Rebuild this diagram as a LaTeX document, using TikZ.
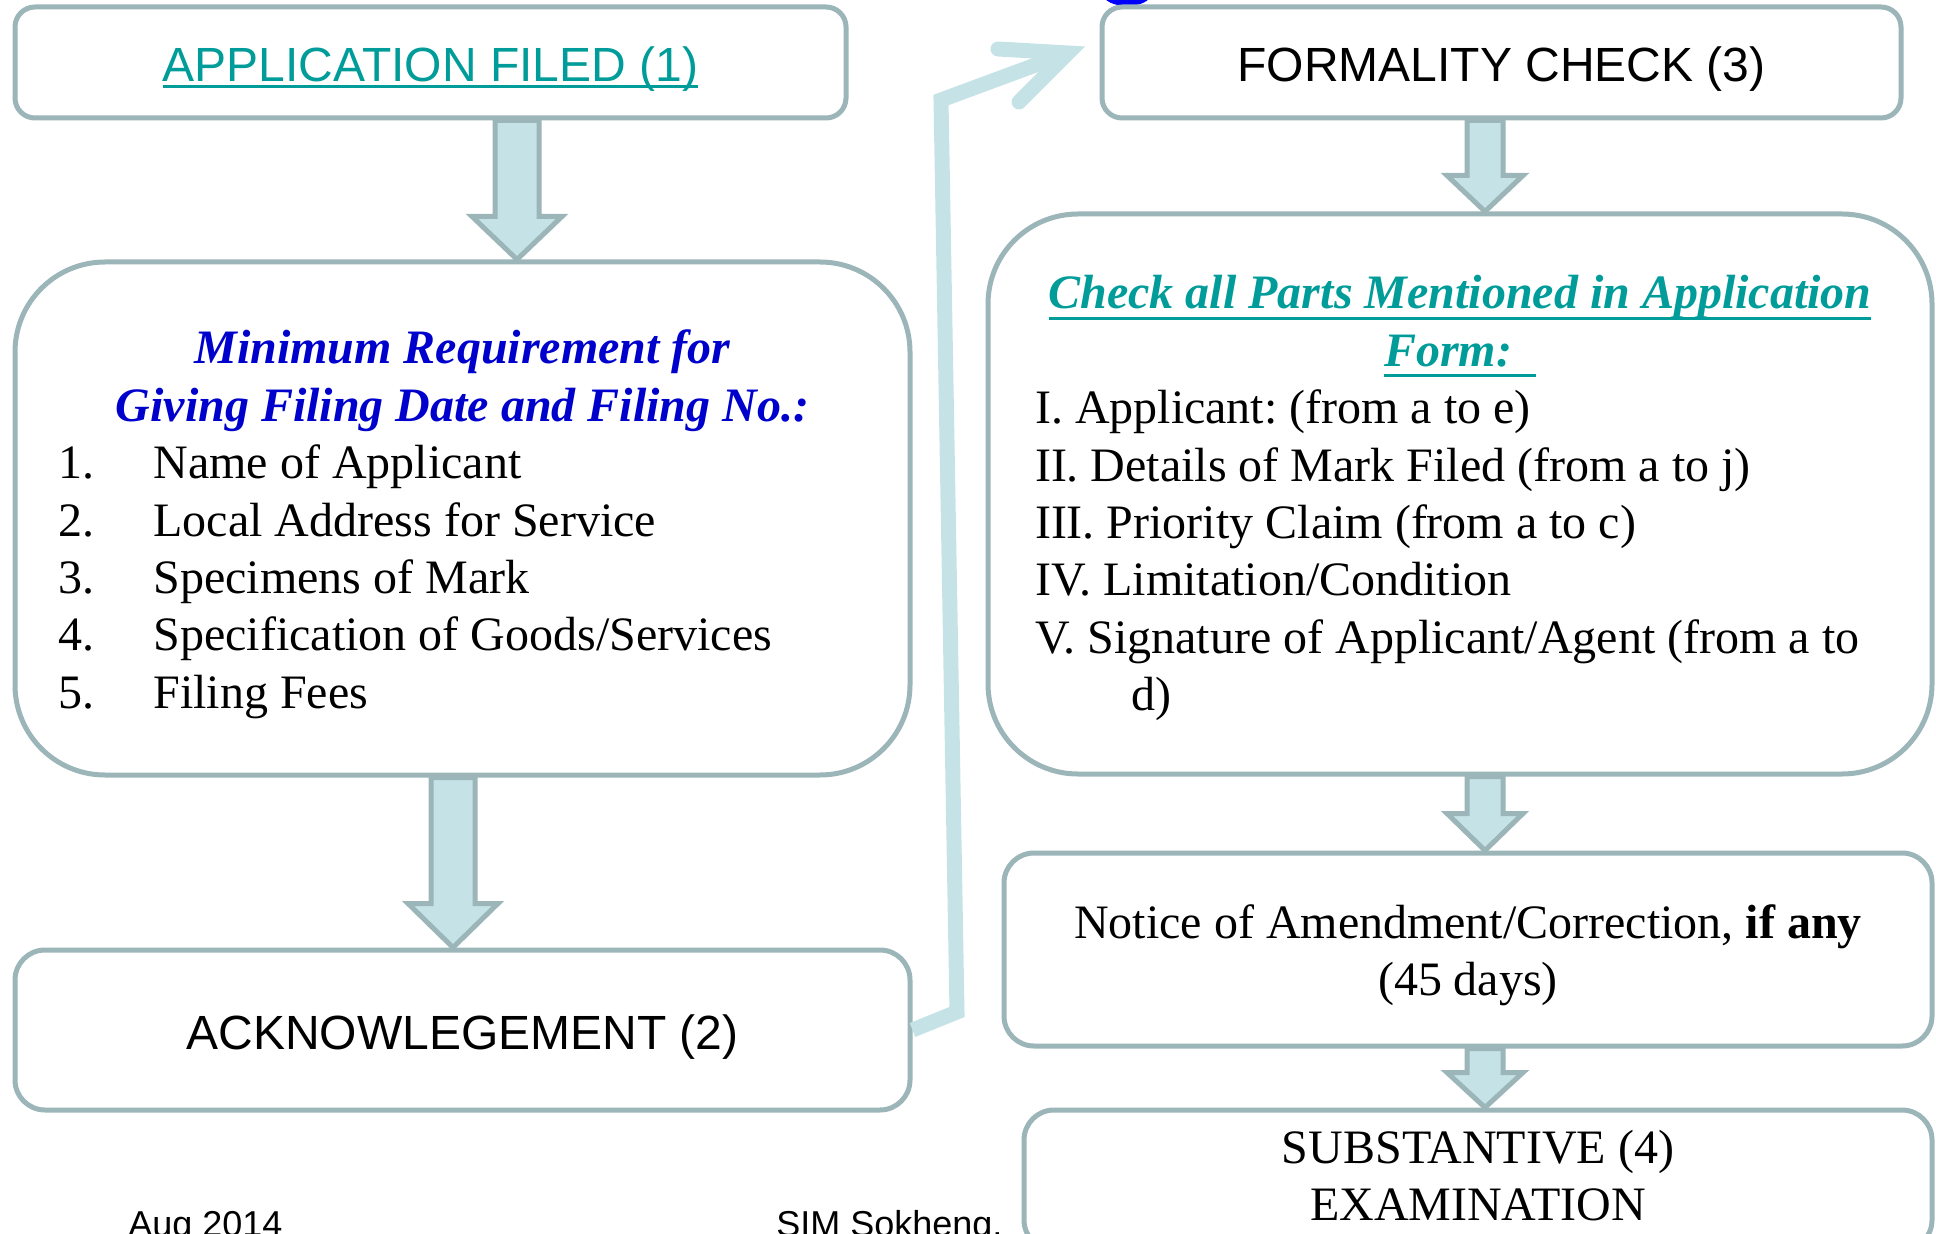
\documentclass[tikz,border=0pt]{standalone}
\usepackage{fontspec}
\setmainfont{Liberation Serif}
\setsansfont{Liberation Sans}
\usetikzlibrary{calc}

\definecolor{boxline}{HTML}{9BB5B8}
\definecolor{arrowfill}{HTML}{C5E3E6}
\definecolor{tealtext}{HTML}{009C99}
\definecolor{titleblue}{HTML}{0000CC}

% underline with a thicker bar: gap below baseline, text
\newcommand{\ulbar}[2]{\leavevmode\vtop{\setbox0=\hbox{#2}\dp0=0pt\box0\kern#1\hrule height1.5pt}}
% fixed word spaces in the serif boxes
\newcommand{\fixspaces}{\spaceskip=6pt\relax\xspaceskip=6pt\relax}

% fat arrow: x, from node, to node, half shaft, half head, head length
\newcommand{\blockarrow}[6]{%
  \draw[blockarrow] (#1-#4,0 |- #2.south) -- ($(#1-#4,0 |- #3.north)+(0,-#6)$)
    -- ($(#1-#5,0 |- #3.north)+(0,-#6)$) -- (#1,0 |- #3.north)
    -- ($(#1+#5,0 |- #3.north)+(0,-#6)$) -- ($(#1+#4,0 |- #3.north)+(0,-#6)$)
    -- (#1+#4,0 |- #2.south) -- cycle;}

\begin{document}
\begin{tikzpicture}[x=0.5pt,y=-0.5pt]
        \tikzstyle{every node}=[font=\fontsize{24}{28.7}\selectfont];
        \tikzstyle{box}=[draw=boxline,line width=2.5pt,rounded corners=10pt,inner sep=0pt];
        \tikzstyle{bigbox}=[box,rounded corners=45pt];
        \tikzstyle{midbox}=[box,rounded corners=15pt];
        \tikzstyle{blockarrow}=[fill=arrowfill,draw=boxline,line width=2.5pt];
        \tikzstyle{link}=[draw=arrowfill,line width=7.5pt];
        \tikzstyle{sans}=[font=\sffamily\fontsize{24}{28.7}\selectfont,text height=21pt,text depth=2pt];
        \useasboundingbox (0,0) rectangle (1936,1234);
        \fill[blue] (1127,-6) ellipse [x radius=12pt,y radius=6pt];
        \node[box,sans,minimum width=415.5pt,minimum height=55.5pt] (app) at (430.5,62.5)
          {\color{tealtext}\ulbar{2pt}{APPLICATION FILED (1)}};
        \node[bigbox,minimum width=447.5pt,minimum height=256.5pt,text width=404pt,
          text height=17pt,text depth=171.5pt] (req) at (462.5,518.5) {\parindent=0pt\fixspaces
          {\centering\color{titleblue}\bfseries\itshape Minimum Requirement for\\Giving Filing Date and Filing No.:\par}
          \raggedright
          \makebox[47.5pt][l]{1.}Name of Applicant\\
          \makebox[47.5pt][l]{2.}Local Address for Service\\
          \makebox[47.5pt][l]{3.}Specimens of Mark\\
          \makebox[47.5pt][l]{4.}Specification of Goods/Services\\
          \makebox[47.5pt][l]{5.}Filing Fees\par};
        \node[midbox,sans,minimum width=447.5pt,minimum height=80pt] (ack) at (462.5,1030) {ACKNOWLEGEMENT (2)};
        \node[box,sans,minimum width=399.5pt,minimum height=55.5pt] (formal) at (1501.5,62.5) {FORMALITY CHECK (3)};
        \node[bigbox,minimum width=472pt,minimum height=280pt,text width=425pt,
          text height=17pt,text depth=202pt] (check) at (1460,494) {\parindent=0pt\fixspaces
          {\centering\color{tealtext}\bfseries\itshape \ulbar{4pt}{Check all Parts Mentioned in Application}\\\ulbar{4pt}{Form:\ \ }\par}
          \raggedright
          I. Applicant: (from a to e)\\
          II. Details of Mark Filed (from a to j)\\
          III. Priority Claim (from a to c)\\
          IV. Limitation/Condition\\
          V. Signature of Applicant/Agent (from a to\\
          \hspace*{48pt}d)\par};
        \node[midbox,minimum width=464pt,minimum height=96.5pt,text width=440pt,align=center,
          text height=17pt,text depth=28.5pt] (notice) at (1468,949.5)
          {\fixspaces Notice of Amendment/Correction, \textbf{if any}\\(45 days)};
        \node[midbox,minimum width=454pt,minimum height=70pt,text width=440pt,align=center,
          text height=17pt,text depth=34pt] (subst) at (1478,1180) {\fixspaces SUBSTANTIVE (4)\\EXAMINATION};
        \blockarrow{517}{app}{req}{22}{45}{43}
        \blockarrow{453}{req}{ack}{22}{45}{44}
        \blockarrow{1485}{formal}{check}{18}{38}{36}
        \blockarrow{1485}{check}{notice}{18}{38}{37}
        \blockarrow{1485}{notice}{subst}{18}{38}{35}
        \coordinate (tip) at (1068,53);
        \draw[link] (ack.east) -- (957,1012) -- (941,100) -- (tip);
        \draw[link,line cap=round] (998,49) -- (tip) -- (1019,102);
        \node[font=\sffamily\fontsize{18}{21}\selectfont,anchor=base west,inner sep=0pt] (date) at (128,1236) {Aug 2014};
        \node[font=\sffamily\fontsize{18}{21}\selectfont,anchor=base west,inner sep=0pt] (author) at (776,1236) {SIM Sokheng,};
      \end{tikzpicture}
\end{document}
